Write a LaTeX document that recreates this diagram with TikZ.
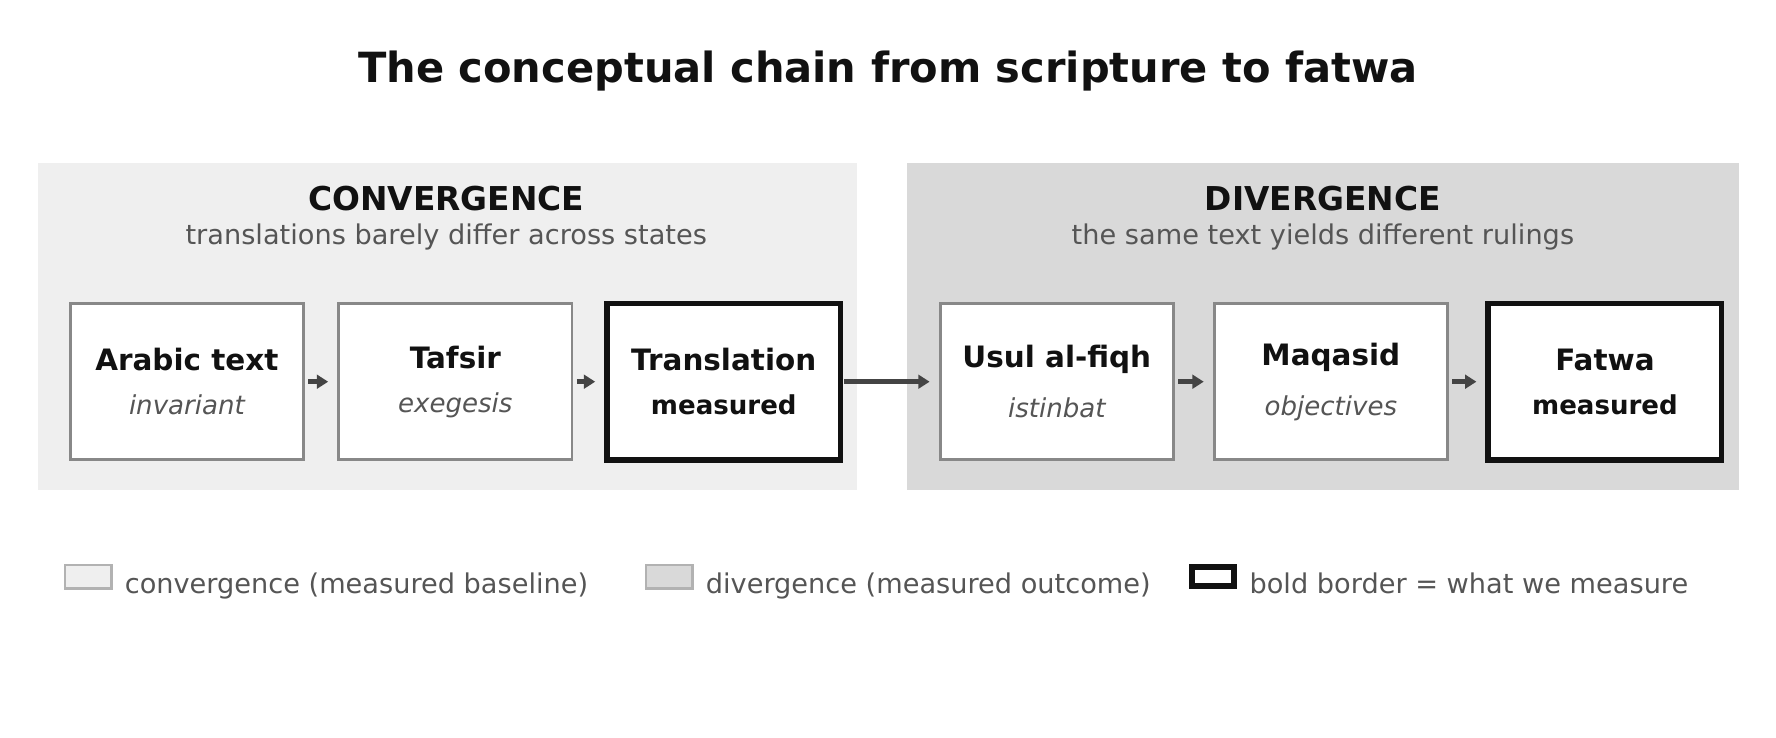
\documentclass[tikz,border=0pt]{standalone}
\usepackage{fontspec}
\setmainfont{DejaVu Sans}
\usetikzlibrary{arrows.meta,positioning}
\definecolor{convbg}{HTML}{EFEFEF}
\definecolor{divbg}{HTML}{D9D9D9}
\definecolor{boxgray}{HTML}{888888}
\definecolor{inkdark}{HTML}{111111}
\definecolor{txtgray}{HTML}{555555}
\definecolor{arrgray}{HTML}{444444}
\newcommand{\fs}[1]{\fontsize{#1}{#1}\selectfont}
\tikzset{
  panel/.style={draw=none,minimum height=288,inner sep=0,anchor=north west},
  stage/.style={draw=boxgray,line width=2.5,fill=white,minimum width=206,minimum height=138,inner sep=0,align=center},
  measured/.style={stage,draw=inkdark,line width=5},
  flow/.style={-{Triangle[length=10,width=12]},line width=4,color=arrgray},
  swatch/.style={minimum width=41,minimum height=21,inner sep=0,line width=2},
  legtext/.style={anchor=base west,inner sep=0,text=txtgray,font=\fs{24}},
}
\begin{document}
\begin{tikzpicture}[x=1pt,y=-1pt]
\useasboundingbox (0,0) rectangle (1568,651);
\node[font=\bfseries\fs{36.7},text=inkdark] (title) at (784,63) {The conceptual chain from scripture to fatwa};

% panels
\node[panel,fill=convbg,minimum width=723] (conv) at (33,144) {};
\node[panel,fill=divbg,minimum width=734] (div) at (801,144) {};
\node[font=\bfseries\fs{29},text=inkdark] (convhead) at (394,175) {CONVERGENCE};
\node[font=\fs{24},text=txtgray] (convsub) at (394,209) {translations barely differ across states};
\node[font=\bfseries\fs{29},text=inkdark] (divhead) at (1168,175) {DIVERGENCE};
\node[font=\fs{24},text=txtgray] (divsub) at (1168,209) {the same text yields different rulings};

% stages
\node[stage] (arabic) at (165,337) {\bfseries\fs{26}\textcolor{inkdark}{Arabic text}\\[20pt]\itshape\fs{23}\textcolor{txtgray}{invariant}};
\node[stage] (tafsir) at (402,337) {\bfseries\fs{26}\textcolor{inkdark}{Tafsir}\\[20pt]\itshape\fs{23}\textcolor{txtgray}{exegesis}};
\node[measured] (transl) at (639,337) {\bfseries\fs{26}\textcolor{inkdark}{Translation}\\[20pt]\bfseries\fs{23}\textcolor{inkdark}{measured}};
\node[stage] (usul) at (933,337) {\bfseries\fs{26}\textcolor{inkdark}{Usul al-fiqh}\\[20pt]\itshape\fs{23}\textcolor{txtgray}{istinbat}};
\node[stage] (maqasid) at (1175,337) {\bfseries\fs{26}\textcolor{inkdark}{Maqasid}\\[20pt]\itshape\fs{23}\textcolor{txtgray}{objectives}};
\node[measured] (fatwa) at (1417,337) {\bfseries\fs{26}\textcolor{inkdark}{Fatwa}\\[20pt]\bfseries\fs{23}\textcolor{inkdark}{measured}};

\draw[flow] ([xshift=3]arabic.east) -- ([xshift=-8]tafsir.west);
\draw[flow] ([xshift=3]tafsir.east) -- ([xshift=-8]transl.west);
\draw[flow] ([xshift=1]transl.east) -- ([xshift=-8]usul.west);
\draw[flow] ([xshift=3]usul.east) -- ([xshift=-8]maqasid.west);
\draw[flow] ([xshift=3]maqasid.east) -- ([xshift=-8]fatwa.west);

% legend
\node[swatch,draw=black!30,fill=convbg] (swconv) at (78,509) {};
\node[legtext] (legconv) at (110,524) {convergence (measured baseline)};
\node[swatch,draw=black!30,fill=divbg] (swdiv) at (591,509) {};
\node[legtext] (legdiv) at (623,524) {divergence (measured outcome)};
\node[swatch,draw=inkdark,line width=5,fill=white,minimum width=37,minimum height=17] (swbold) at (1071,509) {};
\node[legtext] (legbold) at (1103,524) {bold border = what we measure};
\end{tikzpicture}
\end{document}
